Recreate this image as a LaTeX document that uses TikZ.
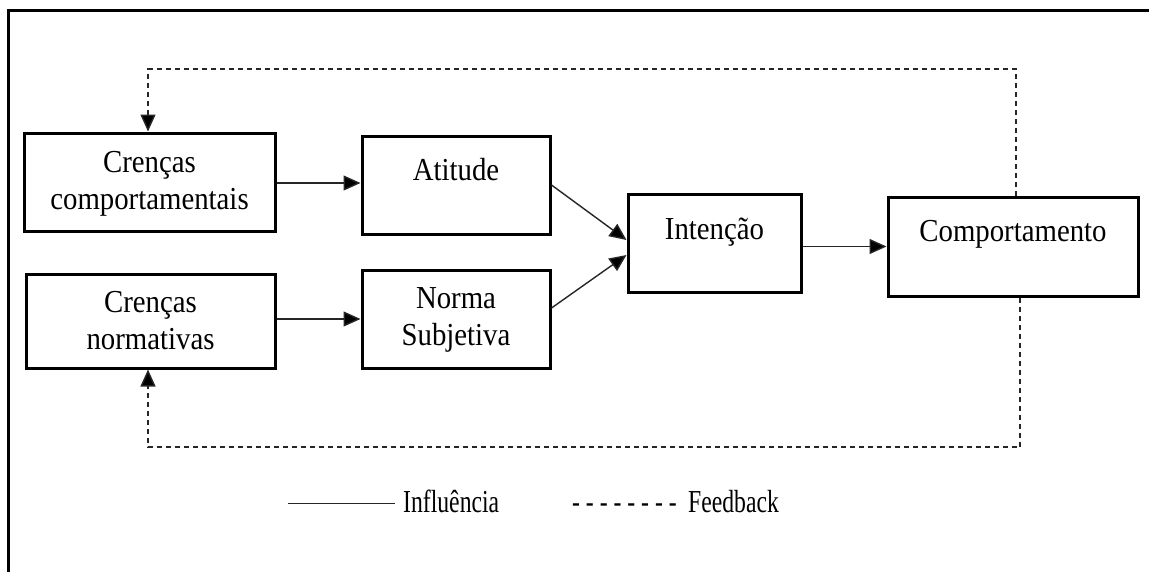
\documentclass[tikz,border=0pt]{standalone}
\usepackage{fontspec}
\setmainfont{Liberation Serif}[FakeStretch=0.9]
\newfontfamily\legendfont{Liberation Serif}[FakeStretch=0.74]
\usetikzlibrary{arrows.meta}

\begin{document}
\begin{tikzpicture}[x=1pt,y=-1pt,
  box/.style={draw=black, line width=3pt, inner sep=0pt},
  txt/.style={inner sep=0pt, align=center, anchor=north,
    font=\fontsize{32}{37}\selectfont},
  legtxt/.style={inner sep=0pt, anchor=base west,
    font=\legendfont\fontsize{32}{37}\selectfont},
  tip/.style={-{Triangle[length=17pt,width=15pt,fill=black]}},
  flow/.style={draw=black!85, line width=1.4pt, tip},
  fb/.style={draw=black!85, line width=1.4pt, dash pattern=on 5pt off 4pt, tip},
]
\useasboundingbox (0,0) rectangle (1149,571);
\clip (0,0) rectangle (1149,571);

% outer frame (open at right and bottom)
\draw[line width=3pt] (8.5,600) -- (8.5,10) -- (1200,10);

% boxes
\node[box, minimum width=251pt, minimum height=98pt] (cc) at (149.5,182) {};
\node[box, minimum width=188pt, minimum height=98pt] (at) at (456,185) {};
\node[box, minimum width=249pt, minimum height=94pt] (cn) at (150.5,321) {};
\node[box, minimum width=188pt, minimum height=98pt] (ns) at (456,319) {};
\node[box, minimum width=173pt, minimum height=98pt] (it) at (714.5,243) {};
\node[box, minimum width=250pt, minimum height=99pt] (co) at (1013,246.5) {};

% box texts
\node[txt] (ccT) at ([yshift=-20pt]cc.north) {Crenças\\comportamentais};
\node[txt] (atT) at ([yshift=-24pt]at.north) {Atitude};
\node[txt] (cnT) at ([yshift=-19pt]cn.north) {Crenças\\normativas};
\node[txt] (nsT) at ([yshift=-19pt]ns.north) {Norma\\Subjetiva};
\node[txt] (itT) at ([yshift=-25pt]it.north) {Intenção};
\node[txt] (coT) at ([yshift=-25pt]co.north) {Comportamento};

% influence arrows
\draw[flow] ([yshift=-1pt]cc.east) -- ([yshift=-1pt]cc.east -| at.west);
\draw[flow] (ns.west -| cn.east) -- (ns.west);
\draw[flow] (at.east) -- ([yshift=3pt]it.west);
\draw[flow] ([yshift=11pt]ns.east) -- ([yshift=-12pt]it.west);
\draw[flow] (it.east |- co.west) -- (co.west);

% feedback loops
\coordinate (fbA) at (1016,69);
\coordinate (fbB) at (1020,447);
\draw[fb] (co.north -| fbA) -- (fbA) -| ([xshift=-1.5pt]cc.north);
\draw[fb] (co.south -| fbB) -- (fbB) -| ([xshift=-2.5pt]cn.south);

% legend
\coordinate (lgA) at (288,503);
\coordinate (lgB) at (395,503);
\draw[black!85, line width=1pt] (lgA) -- (lgB);
\node[legtxt] (lgInf) at (403,512) {Influência};
\node[legtxt] (lgDash) at (572,512) {-\ -\ -\ -\ -\ -\ -\ -};
\node[legtxt] (lgFb) at (688,512) {Feedback};
\end{tikzpicture}
\end{document}
